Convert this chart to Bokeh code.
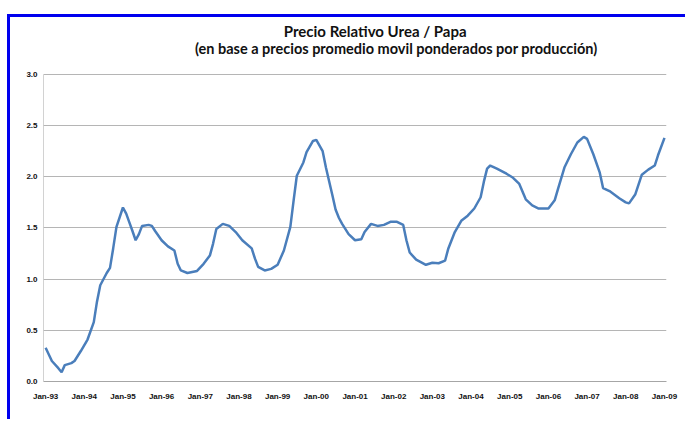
import pandas as pd
from bokeh.plotting import figure
from bokeh.models import FixedTicker, DatetimeTickFormatter, Label, Range1d, NumeralTickFormatter
from bokeh.embed import file_html
from bokeh.resources import INLINE

dates = ["1993-01", "1993-03", "1993-05", "1993-06", "1993-07", "1993-09", "1993-10", "1993-12",
         "1994-02", "1994-04", "1994-05", "1994-06", "1994-08", "1994-09", "1994-10", "1994-11",
         "1995-01", "1995-02", "1995-03", "1995-04", "1995-05", "1995-06", "1995-07", "1995-09",
         "1995-10", "1995-11", "1996-01", "1996-03", "1996-05", "1996-06", "1996-07", "1996-09",
         "1996-12", "1997-02", "1997-04", "1997-05", "1997-06", "1997-08", "1997-10", "1997-12",
         "1998-02", "1998-05", "1998-06", "1998-07", "1998-09", "1998-11", "1999-01", "1999-03",
         "1999-05", "1999-06", "1999-07", "1999-09", "1999-10", "1999-12", "2000-01", "2000-03",
         "2000-04", "2000-06", "2000-07", "2000-08", "2000-09", "2000-11", "2001-01", "2001-03",
         "2001-04", "2001-06", "2001-08", "2001-10", "2001-12", "2002-02", "2002-04", "2002-05",
         "2002-06", "2002-08", "2002-11", "2003-01", "2003-03", "2003-05", "2003-06", "2003-08",
         "2003-10", "2003-12", "2004-02", "2004-04", "2004-05", "2004-06", "2004-07", "2004-09",
         "2004-12", "2005-02", "2005-04", "2005-06", "2005-08", "2005-10", "2006-01", "2006-03",
         "2006-04", "2006-06", "2006-08", "2006-10", "2006-12", "2007-01", "2007-03", "2007-05",
         "2007-06", "2007-08", "2007-11", "2008-01", "2008-02", "2008-04", "2008-06", "2008-08",
         "2008-10", "2008-11", "2009-01"]
values = [0.33, 0.20, 0.13, 0.09, 0.16, 0.18, 0.20, 0.30,
          0.41, 0.58, 0.78, 0.94, 1.06, 1.11, 1.30, 1.51,
          1.70, 1.64, 1.56, 1.47, 1.38, 1.44, 1.52, 1.53,
          1.52, 1.47, 1.38, 1.32, 1.28, 1.15, 1.085, 1.06,
          1.08, 1.15, 1.23, 1.345, 1.49, 1.54, 1.52, 1.46,
          1.38, 1.30, 1.20, 1.12, 1.085, 1.10, 1.14, 1.28,
          1.51, 1.77, 2.01, 2.14, 2.24, 2.35, 2.36, 2.25,
          2.09, 1.82, 1.68, 1.60, 1.54, 1.44, 1.38, 1.39,
          1.46, 1.54, 1.52, 1.53, 1.56, 1.56, 1.53, 1.38,
          1.26, 1.19, 1.14, 1.16, 1.155, 1.18, 1.30, 1.46,
          1.57, 1.62, 1.69, 1.80, 1.95, 2.08, 2.11, 2.08,
          2.03, 1.99, 1.93, 1.78, 1.72, 1.69, 1.69, 1.77,
          1.88, 2.09, 2.22, 2.335, 2.39, 2.37, 2.22, 2.04,
          1.89, 1.86, 1.79, 1.75, 1.74, 1.83, 2.02, 2.07,
          2.11, 2.21, 2.38]
tick_years = list(range(1993, 2010))
y_ticks = [0.0, 0.5, 1.0, 1.5, 2.0, 2.5, 3.0]
title_1 = "Precio Relativo Urea / Papa"
title_2 = "(en base a precios promedio movil ponderados por producción)"

x = pd.to_datetime(dates)
x_ticks = [pd.Timestamp(f"{y}-01-01").value / 1e6 for y in tick_years]
x_start = pd.Timestamp("1992-12-12")
x_end = pd.Timestamp("2009-01-20")

# the frame reaches the top of the canvas so the two title lines can sit inside it
p = figure(width=678, height=405, x_axis_type="datetime", output_backend="svg",
           toolbar_location=None,
           x_range=Range1d(x_start, x_end),
           y_range=Range1d(0, 3.556),
           min_border_left=33, min_border_right=22, min_border_top=0, min_border_bottom=41)
p.margin = (14, 0, 0, 7)
p.styles = {"border-left": "3px solid #0000ee", "border-top": "3px solid #0000ee"}

p.add_layout(Label(x=pd.Timestamp("2001-07-10"), y=3.424, text=title_1,
                   text_align="center", text_baseline="middle", text_font="Lato",
                   text_font_size="15px", text_font_style="bold", text_color="#111111"))
p.add_layout(Label(x=pd.Timestamp("2002-01-25"), y=3.249, text=title_2,
                   text_align="center", text_baseline="middle", text_font="Lato",
                   text_font_size="14.5px", text_font_style="bold", text_color="#111111"))

# left axis line only over the value span 0 – 3.0
p.segment(x0=[x_start], y0=[y_ticks[0]], x1=[x_start], y1=[y_ticks[-1]],
          line_color="#a6a6a6", line_width=1)

p.line(x, values, line_color="#4a7ebb", line_width=2.5)

p.outline_line_color = None
p.background_fill_color = "white"
p.border_fill_color = "white"

p.xaxis.ticker = FixedTicker(ticks=x_ticks)
fmt = "%b-%y"
p.xaxis.formatter = DatetimeTickFormatter(years=fmt, months=fmt, days=fmt, hours=fmt,
                                          minutes=fmt, seconds=fmt, milliseconds=fmt,
                                          microseconds=fmt, minsec=fmt, hourmin=fmt)
p.yaxis.ticker = FixedTicker(ticks=y_ticks)
p.yaxis.formatter = NumeralTickFormatter(format="0.0")

for ax in (p.xaxis, p.yaxis):
    ax.axis_line_color = "#a6a6a6"
    ax.axis_line_width = 1
    ax.major_tick_line_color = None
    ax.minor_tick_line_color = None
    ax.major_tick_out = 0
    ax.major_tick_in = 0
    ax.minor_tick_out = 0
    ax.minor_tick_in = 0
    ax.major_label_text_font = "Liberation Sans"
    ax.major_label_text_font_size = "8px"
    ax.major_label_text_font_style = "bold"
    ax.major_label_text_color = "#111111"
p.yaxis.axis_line_color = None
p.xaxis.major_label_standoff = 10
p.yaxis.major_label_standoff = 6

p.xgrid.grid_line_color = None
p.ygrid.grid_line_color = "#b5b5b5"
p.ygrid.grid_line_width = 1

open("out.html", "w").write(file_html(p, INLINE))
